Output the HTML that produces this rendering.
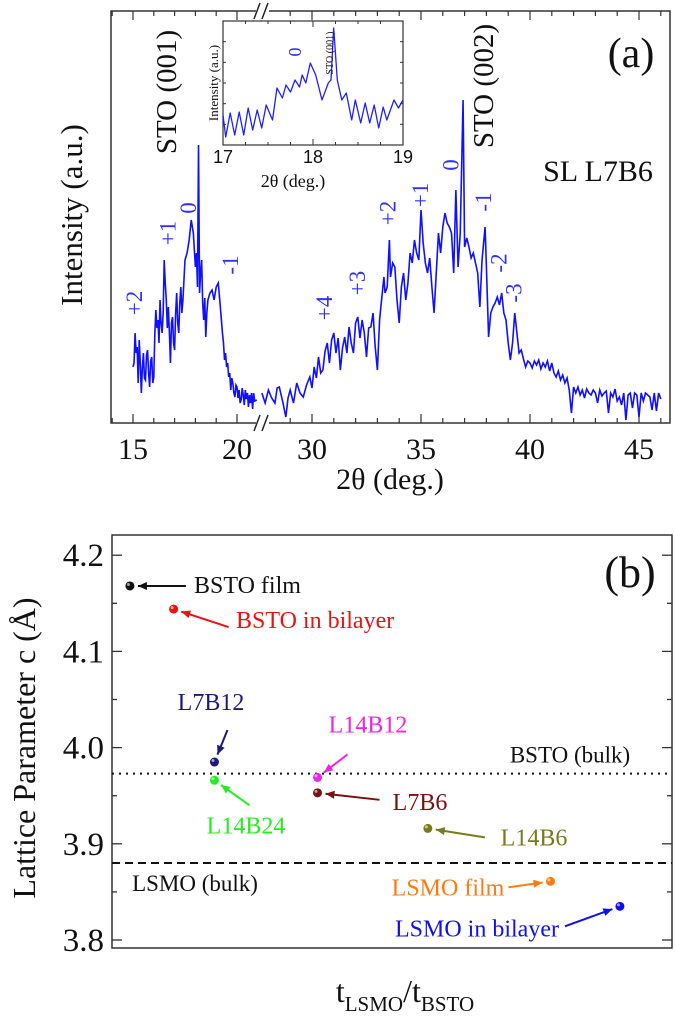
<!DOCTYPE html>
<html><head><meta charset="utf-8">
<style>
html,body{margin:0;padding:0;background:#fff;}
svg{display:block;font-family:"Liberation Serif",serif;}
</style></head>
<body>
<svg id="fig" width="675" height="1019" viewBox="0 0 675 1019">
<g id="pa"></g>
<g id="pb"></g>
</svg>
<script>
// ---------- Panel (a) data ----------
const xrdLeft2Theta = [15.0,15.05,15.1,15.15,15.2,15.25,15.3,15.35,15.4,15.45,15.5,15.55,15.6,15.65,15.7,15.75,15.8,15.85,15.9,15.95,16.0,16.05,16.1,16.15,16.2,16.25,16.3,16.35,16.4,16.45,16.5,16.55,16.6,16.65,16.7,16.75,16.8,16.85,16.9,16.95,17.0,17.05,17.1,17.15,17.2,17.25,17.3,17.35,17.4,17.5,17.6,17.7,17.8,17.9,18.0,18.05,18.1,18.15,18.2,18.25,18.3,18.35,18.4,18.45,18.5,18.55,18.6,18.7,18.8,18.9,19.0,19.1,19.2,19.3,19.35,19.4,19.45,19.5,19.55,19.6,19.65,19.7,19.75,19.8,19.85,19.9,19.95,20.0,20.05,20.1,20.15,20.2,20.25,20.3,20.35,20.4,20.45,20.5,20.55,20.6,20.65,20.7,20.75,20.8,20.85,20.95];
const xrdLeftInt = [56,60,90,70,76,40,83,60,30,55,70,45,43,68,73,50,36,62,66,40,46,90,113,95,103,80,123,100,90,110,163,140,123,95,116,90,60,100,106,80,73,110,130,100,90,120,136,110,123,163,170,183,203,190,156,170,136,278,130,150,163,120,103,125,86,110,123,130,133,123,136,140,116,90,80,63,70,56,60,46,50,33,45,40,30,26,38,36,25,33,20,23,35,28,18,33,24,30,16,28,20,30,14,30,22,23];
const xrdRight2Theta = [27.7,27.85,28.0,28.15,28.3,28.4,28.5,28.65,28.8,28.9,29.0,29.15,29.3,29.45,29.6,29.75,29.9,30.0,30.1,30.2,30.3,30.4,30.5,30.6,30.7,30.8,30.9,31.0,31.1,31.2,31.3,31.4,31.5,31.6,31.7,31.8,31.9,32.0,32.1,32.2,32.3,32.4,32.5,32.6,32.7,32.8,32.9,33.0,33.1,33.2,33.3,33.35,33.45,33.55,33.6,33.7,33.8,33.9,34.0,34.1,34.2,34.3,34.4,34.5,34.6,34.7,34.8,34.9,35.0,35.1,35.2,35.3,35.4,35.5,35.6,35.7,35.8,35.9,36.0,36.1,36.2,36.3,36.4,36.5,36.6,36.7,36.8,36.93,37.0,37.1,37.2,37.3,37.4,37.5,37.6,37.7,37.8,37.94,38.0,38.1,38.2,38.3,38.4,38.5,38.6,38.7,38.8,38.9,39.0,39.1,39.2,39.3,39.4,39.5,39.6,39.7,39.8,39.9,40.0,40.1,40.2,40.3,40.4,40.5,40.6,40.7,40.8,40.9,41.0,41.1,41.2,41.3,41.4,41.5,41.6,41.7,41.8,41.9,42.0,42.1,42.2,42.3,42.4,42.5,42.6,42.7,42.8,42.9,43.0,43.1,43.2,43.3,43.4,43.5,43.6,43.7,43.8,43.9,44.0,44.1,44.2,44.3,44.4,44.5,44.6,44.7,44.8,44.9,45.0,45.1,45.2,45.3,45.4,45.5,45.6,45.7,45.8,45.9,46.0];
const xrdRightInt = [30,20,33,25,20,35,36,22,6,25,33,20,40,30,26,38,46,35,56,45,66,50,53,72,80,60,83,90,70,85,53,75,86,70,96,80,70,100,106,85,103,90,66,95,96,110,76,53,103,125,146,130,136,183,146,160,156,123,100,136,150,123,140,170,160,183,170,163,213,180,160,150,165,136,110,150,190,170,196,210,200,196,190,150,233,156,190,323,176,185,176,165,170,160,150,116,163,196,156,86,110,116,120,126,118,130,110,103,80,63,80,110,90,70,73,64,56,62,60,55,62,58,63,54,60,56,62,52,60,50,46,52,43,48,40,45,33,10,36,30,36,28,33,25,34,30,28,33,30,20,33,27,30,32,10,30,26,34,22,26,18,30,3,28,30,15,30,28,6,30,22,30,28,26,13,30,12,30,24,3];
const insetTheta = [17.0,17.03,17.08,17.13,17.18,17.23,17.28,17.33,17.38,17.43,17.48,17.55,17.6,17.66,17.7,17.75,17.8,17.85,17.88,17.92,17.97,18.03,18.1,18.17,18.2,18.23,18.27,18.32,18.37,18.43,18.47,18.53,18.58,18.63,18.68,18.73,18.78,18.82,18.9,18.95,19.0];
const insetInt = [30,8,32,10,33,10,37,15,35,17,40,25,57,47,60,53,65,58,70,62,82,70,45,62,65,117,65,45,52,25,45,22,42,22,40,17,38,25,45,37,45];
const xTicksLeft = [15,20];
const xTicksRight = [30,35,40,45];
const insetTicks = [17,18,19];
const peakLabels = ["+2","+1","0","-1","+4","+3","+2","+1","0","-1","-2","-3"];
const peakTheta = [15.1,16.7,17.7,19.7,30.6,32.1,33.5,35.0,36.4,37.9,38.6,39.3];
const peakInt = [120,190,215,158,115,140,210,228,258,221,160,130];

// ---------- Panel (b) data ----------
const sampleNames = ["BSTO film","BSTO in bilayer","L7B12","L14B24","L14B12","L7B6","L14B6","LSMO film","LSMO in bilayer"];
const sampleRatio = [0.032,0.110,0.183,0.183,0.367,0.367,0.564,0.783,0.907];
const latticeC = [4.168,4.144,3.985,3.966,3.969,3.953,3.916,3.861,3.835];
const sampleColors = ["#111","#ee1111","#1a1a7a","#22ee22","#ee22ee","#7a1010","#7a7a1a","#ff7a10","#1010ee"];
const bulkRefNames = ["BSTO (bulk)","LSMO (bulk)"];
const bulkRefValues = [3.973,3.880];
const yTicksB = [3.8,3.9,4.0,4.1,4.2];

const NS="http://www.w3.org/2000/svg";
function mk(parent,tag,attrs,text){const e=document.createElementNS(NS,tag);for(const k in attrs)e.setAttribute(k,attrs[k]);if(text!==undefined)e.textContent=text;parent.appendChild(e);return e;}

// ===== Panel (a) =====
const pa=document.getElementById('pa');
const A={l:111,r:670,t:11,b:423};
const xL=t=>133+(t-15)*20.8;
const xR=t=>312+(t-30)*21.8;
const yA=v=>A.b-v;
let f=mk(pa,'rect',{x:A.l,y:A.t,width:A.r-A.l,height:A.b-A.t,fill:'none',stroke:'#333','stroke-width':1.5});


for(let t=14;t<=21;t++){const x=xL(t);if(x<A.l||x>256)continue;const len=(t%5===0)?9:5;
 mk(pa,'line',{x1:x,y1:A.b,x2:x,y2:A.b-len,stroke:'#333','stroke-width':1.2});
 mk(pa,'line',{x1:x,y1:A.t,x2:x,y2:A.t+len,stroke:'#333','stroke-width':1.2});}
for(let t=28;t<=46;t++){const x=xR(t);if(x<270||x>A.r)continue;const len=(t%5===0)?9:5;
 mk(pa,'line',{x1:x,y1:A.b,x2:x,y2:A.b-len,stroke:'#333','stroke-width':1.2});
 mk(pa,'line',{x1:x,y1:A.t,x2:x,y2:A.t+len,stroke:'#333','stroke-width':1.2});}
xTicksLeft.forEach(t=>{const e=mk(pa,'text',{x:xL(t),y:459,'font-size':30,'text-anchor':'middle',fill:'#111'},t);
 
 });
xTicksRight.forEach(t=>{const e=mk(pa,'text',{x:xR(t),y:459,'font-size':30,'text-anchor':'middle',fill:'#111'},t);
 
 });
[A.t,A.b].forEach(y=>{mk(pa,'rect',{x:256,y:y-8,width:13,height:16,fill:'#fff'});
 mk(pa,'line',{x1:254,y1:y+8,x2:260,y2:y-8,stroke:'#222','stroke-width':1.5});
 mk(pa,'line',{x1:262,y1:y+8,x2:268,y2:y-8,stroke:'#222','stroke-width':1.5});});
let p=mk(pa,'polyline',{points:xrdLeft2Theta.map((t,i)=>xL(t)+','+yA(xrdLeftInt[i])).join(' '),fill:'none',stroke:'#1010ff','stroke-width':1.6});


p=mk(pa,'polyline',{points:xrdRight2Theta.map((t,i)=>xR(t)+','+yA(xrdRightInt[i])).join(' '),fill:'none',stroke:'#1010ff','stroke-width':1.6});


peakLabels.forEach((s,i)=>{const x=peakTheta[i]<25?xL(peakTheta[i]):xR(peakTheta[i]);const y=yA(peakInt[i]);
 const e=mk(pa,'text',{x:0,y:0,'font-size':23,fill:'#3030ff','text-anchor':'middle',transform:`translate(${x+7},${y}) rotate(-90)`},s);
 
 });
let e;
e=mk(pa,'text',{x:0,y:0,'font-size':31,'text-anchor':'middle',fill:'#111',transform:'translate(82,215) rotate(-90)'},'Intensity (a.u.)');

e=mk(pa,'text',{x:390,y:489,'font-size':30,'text-anchor':'middle',fill:'#111'},'2θ (deg.)');

e=mk(pa,'text',{x:0,y:0,'font-size':29,'text-anchor':'middle',fill:'#111',transform:'translate(176,92) rotate(-90)'},'STO (001)');

e=mk(pa,'text',{x:0,y:0,'font-size':29,'text-anchor':'middle',fill:'#111',transform:'translate(493,86) rotate(-90)'},'STO (002)');

e=mk(pa,'text',{x:631,y:67,'font-size':42,'text-anchor':'middle',fill:'#111'},'(a)');

e=mk(pa,'text',{x:598,y:181,'font-size':30,'text-anchor':'middle',fill:'#111'},'SL L7B6');

// inset
const I={l:223,r:403,t:21,b:145};
const xI=t=>I.l+(t-17)*(I.r-I.l)/2;
const yI=v=>I.b-v;
e=mk(pa,'rect',{x:I.l,y:I.t,width:I.r-I.l,height:I.b-I.t,fill:'#fff',stroke:'#333','stroke-width':1.2});

for(let k=0;k<=8;k++){const x=xI(17+k*0.25);const len=(k%4===0)?6:3;
 mk(pa,'line',{x1:x,y1:I.b,x2:x,y2:I.b-len,stroke:'#333','stroke-width':1});
 mk(pa,'line',{x1:x,y1:I.t,x2:x,y2:I.t+len,stroke:'#333','stroke-width':1});}
for(let k=1;k<6;k++){const y=I.t+k*(I.b-I.t)/6;mk(pa,'line',{x1:I.l,y1:y,x2:I.l+3,y2:y,stroke:'#333','stroke-width':1});mk(pa,'line',{x1:I.r,y1:y,x2:I.r-3,y2:y,stroke:'#333','stroke-width':1});}
p=mk(pa,'polyline',{points:insetTheta.map((t,i)=>xI(t)+','+yI(insetInt[i])).join(' '),fill:'none',stroke:'#2020ff','stroke-width':1.3,'stroke-linejoin':'round'});


insetTicks.forEach(t=>{const e=mk(pa,'text',{x:xI(t),y:163,'font-size':18,'text-anchor':'middle',fill:'#111','font-family':'Liberation Sans, sans-serif'},t);
 
 });
e=mk(pa,'text',{x:293,y:187,'font-size':18,'text-anchor':'middle',fill:'#111'},'2θ (deg.)');

e=mk(pa,'text',{x:0,y:0,'font-size':13,'text-anchor':'middle',fill:'#111',transform:'translate(218,83) rotate(-90)'},'Intensity (a.u.)');

e=mk(pa,'text',{x:0,y:0,'font-size':10,'text-anchor':'middle',fill:'#111',transform:'translate(333,53) rotate(-90)'},'STO (001)');

e=mk(pa,'text',{x:0,y:0,'font-size':18,'text-anchor':'middle',fill:'#2020ff',transform:'translate(301,52) rotate(-90)'},'0');


// ===== Panel (b) =====
const pb=document.getElementById('pb');
const B={l:112,r:672,t:535,b:948};
const xB=v=>B.l+v*(B.r-B.l);
const yB=c=>940-(c-3.8)*962;
e=mk(pb,'rect',{x:B.l,y:B.t,width:B.r-B.l,height:B.b-B.t,fill:'none',stroke:'#333','stroke-width':1.5});

for(let k=0;k<=8;k++){const c=3.8+k*0.05;const y=yB(c);const len=(k%2===0)?10:5;
 mk(pb,'line',{x1:B.l,y1:y,x2:B.l+len,y2:y,stroke:'#333','stroke-width':1.3});
 mk(pb,'line',{x1:B.r,y1:y,x2:B.r-len,y2:y,stroke:'#333','stroke-width':1.3});}
yTicksB.forEach(c=>{const e=mk(pb,'text',{x:104,y:yB(c)+11,'font-size':33,'text-anchor':'end',fill:'#111'},c.toFixed(1));
 
 });
e=mk(pb,'line',{x1:B.l,y1:yB(bulkRefValues[0]),x2:B.r,y2:yB(bulkRefValues[0]),stroke:'#111','stroke-width':2,'stroke-dasharray':'2,5'});

e=mk(pb,'line',{x1:B.l,y1:yB(bulkRefValues[1]),x2:B.r,y2:yB(bulkRefValues[1]),stroke:'#111','stroke-width':2,'stroke-dasharray':'8,5'});

e=mk(pb,'text',{x:570,y:yB(bulkRefValues[0])-11,'font-size':23,'text-anchor':'middle',fill:'#111'},bulkRefNames[0]);

e=mk(pb,'text',{x:195,y:yB(bulkRefValues[1])+28,'font-size':23,'text-anchor':'middle',fill:'#111'},bulkRefNames[1]);

const lab=[[194,7,56,0,'start'],[236,19,55,18,'start'],[211,-52,13,-32,'middle'],[246,53,35,25,'middle'],[368,-45,30,-23,'middle'],[420,17,62,7,'middle'],[534,17,57,9,'middle'],[448,14,-42,6,'middle'],[477,30,-55,20,'middle']];
sampleNames.forEach((n,i)=>{const x=xB(sampleRatio[i]),y=yB(latticeC[i]);const col=sampleColors[i];const L=lab[i];
 const g=mk(pb,'g',{});
 
 
 mk(g,'circle',{cx:x,cy:y,r:4.5,fill:col});
 mk(g,'circle',{cx:x-1.5,cy:y-1.5,r:1.5,fill:'#fff',opacity:0.6});
 const sx=x+L[2],sy=y+L[3];const dx=x-sx,dy=y-sy;const d=Math.hypot(dx,dy);const ux=dx/d,uy=dy/d;
 const ex=x-ux*8,ey=y-uy*8;
 mk(g,'line',{x1:sx,y1:sy,x2:ex,y2:ey,stroke:col,'stroke-width':2});
 const bx=ex-ux*9,by=ey-uy*9;
 mk(g,'polygon',{points:`${ex},${ey} ${bx-uy*4},${by+ux*4} ${bx+uy*4},${by-ux*4}`,fill:col});
 const t=mk(pb,'text',{x:L[0],y:yB(latticeC[i])+L[1],'font-size':24,'text-anchor':L[4]==='start'?'start':'middle',fill:col},n);
 
 
});
e=mk(pb,'text',{x:630,y:587,'font-size':44,'text-anchor':'middle',fill:'#111'},'(b)');

e=mk(pb,'text',{x:0,y:0,'font-size':32,'text-anchor':'middle',fill:'#111',transform:'translate(35,748) rotate(-90)'},'Lattice Parameter c (Å)');

e=mk(pb,'text',{x:405,y:1002,'font-size':32,'text-anchor':'middle',fill:'#111'});

mk(e,'tspan',{},'t');mk(e,'tspan',{'font-size':21,dy:9},'LSMO');mk(e,'tspan',{dy:-9},'/t');mk(e,'tspan',{'font-size':21,dy:9},'BSTO');
</script>
</body></html>
